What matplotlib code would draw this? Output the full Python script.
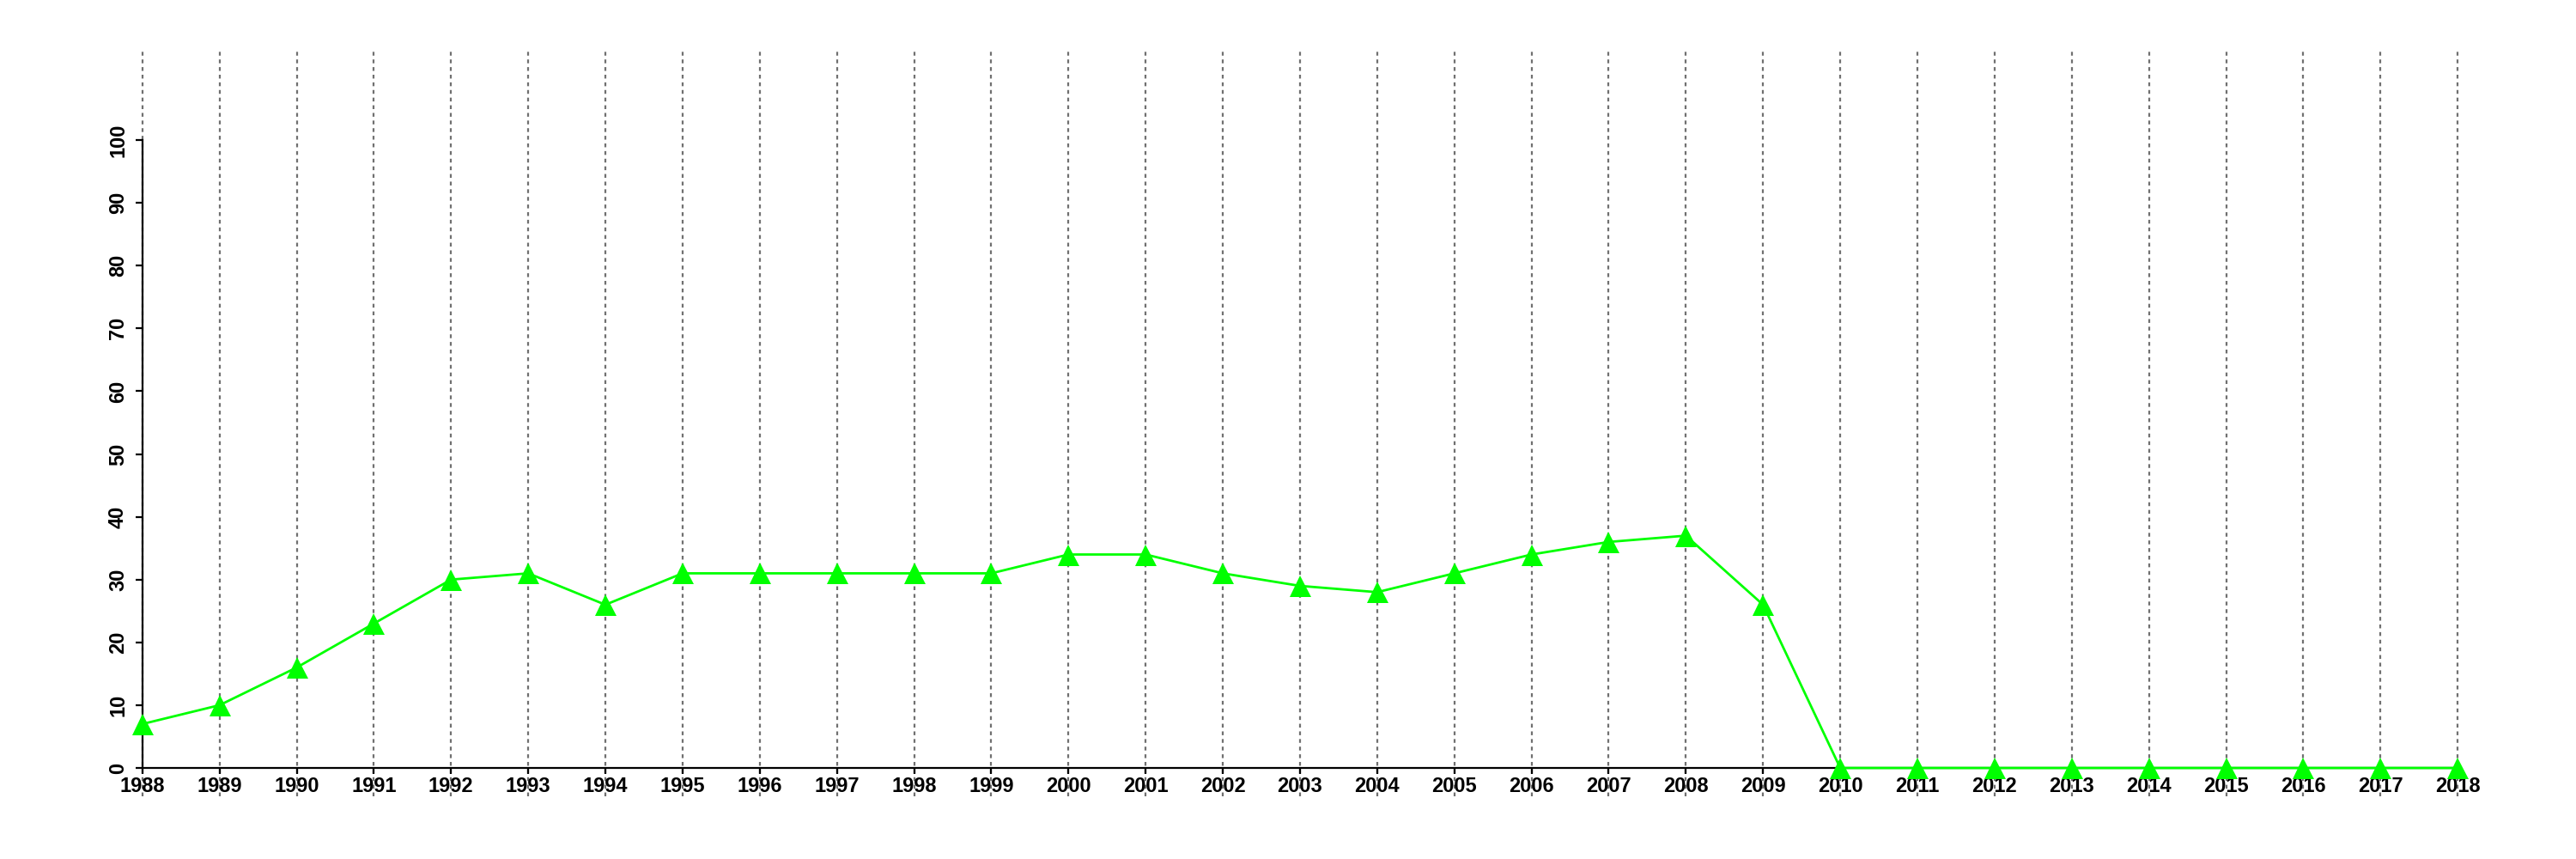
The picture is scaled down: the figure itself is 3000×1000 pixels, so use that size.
import matplotlib.pyplot as plt

years = list(range(1988, 2019))
values = [7, 10, 16, 23, 30, 31, 26, 31, 31, 31, 31, 31, 34, 34, 31, 29, 28,
          31, 34, 36, 37, 26, 0, 0, 0, 0, 0, 0, 0, 0, 0]
yticks = [0, 10, 20, 30, 40, 50, 60, 70, 80, 90, 100]

plt.rcParams['font.family'] = ['Liberation Sans', 'DejaVu Sans']

fig = plt.figure(figsize=(30, 10), dpi=100)
ax = fig.add_axes([0.0193, 0.0733, 0.9707, 0.8674])
ax.set_xlim(1986.8, 2019.2)
ax.set_ylim(-4.47, 114.2)

# vertical dashed grid at every year
for yr in years:
    ax.axvline(yr, color='#707070', lw=1.6, ls=(0, (2, 2)), zorder=1)

ax.plot(years, values, color='#00ff00', lw=2, marker='^', markersize=18,
        markeredgewidth=0, zorder=3)

for s in ['top', 'right']:
    ax.spines[s].set_visible(False)
ax.spines['left'].set_position(('data', 1988))
ax.spines['left'].set_bounds(0, 100)
ax.spines['bottom'].set_position(('data', 0))
ax.spines['bottom'].set_bounds(1988, 2018)
for s in ['left', 'bottom']:
    ax.spines[s].set_linewidth(1.6)
    ax.spines[s].set_zorder(2)

ax.set_xticks(years)
ax.set_xticklabels([str(y) for y in years], fontsize=17, fontweight='bold')
ax.set_yticks(yticks)
ax.set_yticklabels([str(v) for v in yticks], fontsize=17, fontweight='bold',
                   rotation=90, va='center')
ax.tick_params(axis='x', length=5, width=1.6, pad=2)
ax.tick_params(axis='y', length=6, width=1.6, pad=6)

fig.savefig('out.png', dpi=100)
